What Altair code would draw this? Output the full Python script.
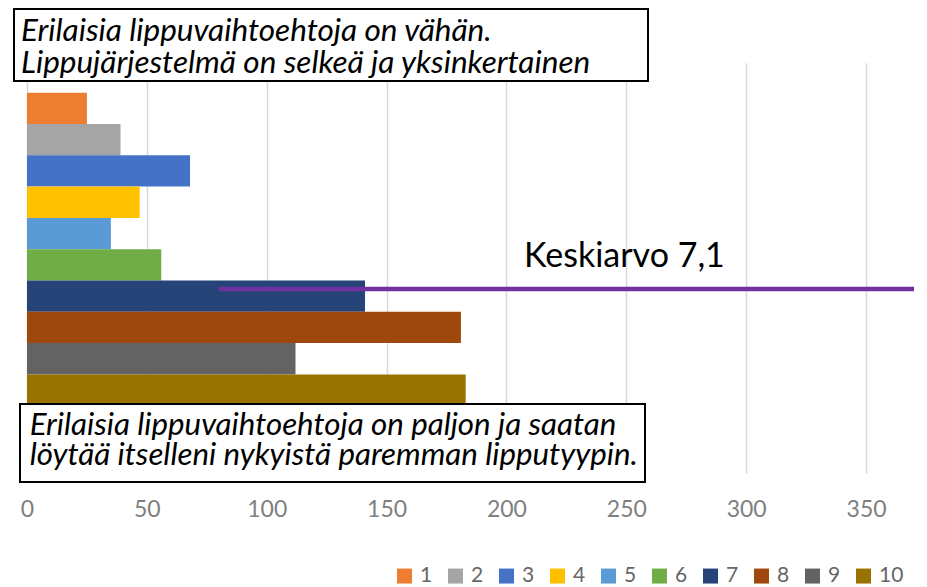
import altair as alt
import pandas as pd

# ---- data ----
categories = ["1", "2", "3", "4", "5", "6", "7", "8", "9", "10"]
counts = [25, 39, 68, 47, 35, 56, 141, 181, 112, 183]
colors = ["#ED7D31", "#A5A5A5", "#4472C4", "#FFC000", "#5B9BD5",
          "#70AD47", "#264478", "#9E480E", "#636363", "#997300"]
x_ticks = [0, 50, 100, 150, 200, 250, 300, 350]
mean_label = "Keskiarvo 7,1"
mean_line_x = [80, 370]
mean_line_pos = 6.27
top_box_text = ["Erilaisia lippuvaihtoehtoja on vähän.",
                "Lippujärjestelmä on selkeä ja yksinkertainen"]
bottom_box_text = ["Erilaisia lippuvaihtoehtoja on paljon ja saatan",
                   "löytää itselleni nykyistä paremman lipputyypin."]

X_MAX = 370
Y_DOMAIN = [-0.958, 12.15]
W, H = 887, 410.3
FONT = "Lato"

bars_df = pd.DataFrame({
    "category": categories,
    "value": counts,
    "start": list(range(len(categories))),
    "end": [i + 1 for i in range(len(categories))],
})
mean_df = pd.DataFrame({"x": [mean_line_x[0]], "x2": [mean_line_x[1]], "y": [mean_line_pos]})
one = pd.DataFrame({"a": [0]})

xscale = alt.Scale(domain=[0, X_MAX], nice=False, zero=True)
yscale = alt.Scale(domain=Y_DOMAIN, reverse=True, nice=False, zero=False)
xaxis = alt.Axis(values=x_ticks, title=None, grid=True, gridColor="#d9d9d9", gridWidth=1.5,
                 domain=False, ticks=False, tickSize=0, labelFont=FONT, labelFontSize=23,
                 labelColor="#7f7f7f", labelBaseline="alphabetic", labelPadding=43.7,
                 labelFlush=False)

bars = alt.Chart(bars_df).transform_calculate(zero="0").mark_rect().encode(
    x=alt.X("zero:Q", scale=xscale, axis=xaxis),
    x2="value:Q",
    y=alt.Y("start:Q", scale=yscale, axis=None),
    y2="end:Q",
    color=alt.Color("category:N", scale=alt.Scale(domain=categories, range=colors),
                    sort=categories,
                    legend=alt.Legend(title=None, orient="none", legendX=367, legendY=502.6,
                                      direction="horizontal", columns=10, gridAlign="all",
                                      symbolType="square", symbolSize=225, symbolStrokeWidth=0,
                                      labelFont=FONT, labelFontSize=21, labelColor="#666666",
                                      labelOffset=5, columnPadding=0, padding=0, rowPadding=0,
                                      symbolOpacity=1)),
)

rule = alt.Chart(mean_df).mark_rule(color="#7030A0", strokeWidth=4.5, strokeCap="butt").encode(
    x=alt.X("x:Q", scale=xscale, axis=xaxis),
    x2="x2:Q",
    y=alt.Y("y:Q", scale=yscale, axis=None),
)

mean_text = alt.Chart(one).mark_text(text=mean_label, font=FONT, fontSize=34, align="left",
                                     baseline="alphabetic", color="#000000").encode(
    x=alt.value(497), y=alt.value(204.3))

top_box = alt.Chart(one).mark_rect(fill="white", stroke="black", strokeWidth=2).encode(
    x=alt.value(-13), x2=alt.value(621), y=alt.value(-53.7), y2=alt.value(18.3))
top_text = alt.Chart(one).mark_text(text=top_box_text, lineHeight=32, font=FONT, fontStyle="italic",
                                    fontSize=31.5, align="left", baseline="alphabetic",
                                    color="#000000").encode(
    x=alt.value(-6), y=alt.value(-21.7))

bot_box = alt.Chart(one).mark_rect(fill="white", stroke="black", strokeWidth=2).encode(
    x=alt.value(-7), x2=alt.value(618), y=alt.value(341.3), y2=alt.value(419.3))
bot_text = alt.Chart(one).mark_text(text=bottom_box_text, lineHeight=30, font=FONT, fontStyle="italic",
                                    fontSize=31.3, align="left", baseline="alphabetic",
                                    color="#000000").encode(
    x=alt.value(2.7), y=alt.value(372.3))

chart = alt.layer(bars, rule, mean_text, top_box, top_text, bot_box, bot_text).properties(
    width=W, height=H,
    autosize=alt.AutoSizeParams(type="none"),
    padding={"left": 19, "top": 54.7, "right": 5, "bottom": 114},
    background="white",
).configure_view(stroke=None)

chart.save("out.html", embed_options={"renderer": "svg", "actions": False})
